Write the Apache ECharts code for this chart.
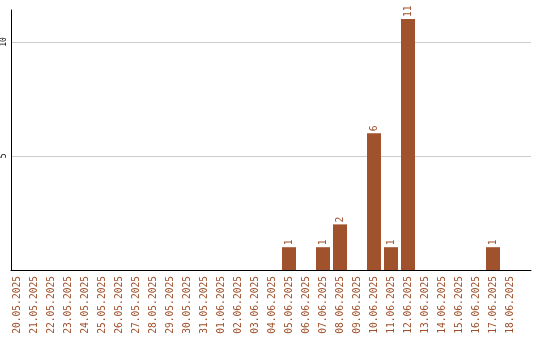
<!DOCTYPE html>
<html>
<head>
<meta charset="utf-8">
<script src="https://cdn.jsdelivr.net/npm/echarts@6/dist/echarts.min.js"></script>
<style>html,body{margin:0;padding:0;background:#fff}#c{width:540px;height:340px}</style>
</head>
<body>
<div id="c"></div>
<script>
const categories = ['20.05.2025','21.05.2025','22.05.2025','23.05.2025','24.05.2025','25.05.2025','26.05.2025','27.05.2025','28.05.2025','29.05.2025','30.05.2025','31.05.2025','01.06.2025','02.06.2025','03.06.2025','04.06.2025','05.06.2025','06.06.2025','07.06.2025','08.06.2025','09.06.2025','10.06.2025','11.06.2025','12.06.2025','13.06.2025','14.06.2025','15.06.2025','16.06.2025','17.06.2025','18.06.2025'];
const values = [0,0,0,0,0,0,0,0,0,0,0,0,0,0,0,0,1,0,1,2,0,6,1,11,0,0,0,0,1,0];
const yTicks = [5, 10];

const brown = '#a0522d';
const mono = 'DejaVu Sans Mono';
const chart = echarts.init(document.getElementById('c'), null, {renderer: 'canvas'});
chart.setOption({
  animation: false,
  backgroundColor: '#fff',
  grid: [
    {left: 10, right: 9, top: 10, bottom: 70},
    {left: 8.5, width: 510, top: 10, bottom: 70}
  ],
  xAxis: [
    {gridIndex: 0, type: 'category', data: categories,
     axisLine: {show: true, lineStyle: {color: '#000', width: 1}},
     axisTick: {show: false}, axisLabel: {show: false}, splitLine: {show: false}},
    {gridIndex: 1, type: 'category', data: categories,
     axisLine: {show: false}, axisTick: {show: false},
     axisLabel: {show: true, rotate: 90, interval: 0, margin: 6, color: brown, fontFamily: mono, fontSize: 9.6}}
  ],
  yAxis: [
    {gridIndex: 0, type: 'value', min: 0, max: 11.4, interval: 5,
     axisLine: {show: true, lineStyle: {color: '#000', width: 1}},
     axisTick: {show: false},
     axisLabel: {show: true, rotate: 90, margin: 3, color: '#000', fontFamily: mono, fontSize: 8,
       showMinLabel: false, showMaxLabel: false,
       formatter: v => yTicks.indexOf(v) >= 0 ? String(v) : ''},
     splitLine: {show: true, showMinLine: false, showMaxLine: false, lineStyle: {color: '#cccccc', width: 1}}},
    {gridIndex: 1, type: 'value', min: 0, max: 11.4, show: false, splitLine: {show: false}}
  ],
  series: [{
    type: 'bar', xAxisIndex: 1, yAxisIndex: 1, data: values, barWidth: 14,
    itemStyle: {color: brown},
    label: {show: true, position: 'top', rotate: 90, align: 'left', verticalAlign: 'middle', distance: 2,
      color: brown, fontFamily: mono, fontSize: 9.6,
      formatter: p => p.value ? String(p.value) : ''}
  }]
});
</script>
</body>
</html>
